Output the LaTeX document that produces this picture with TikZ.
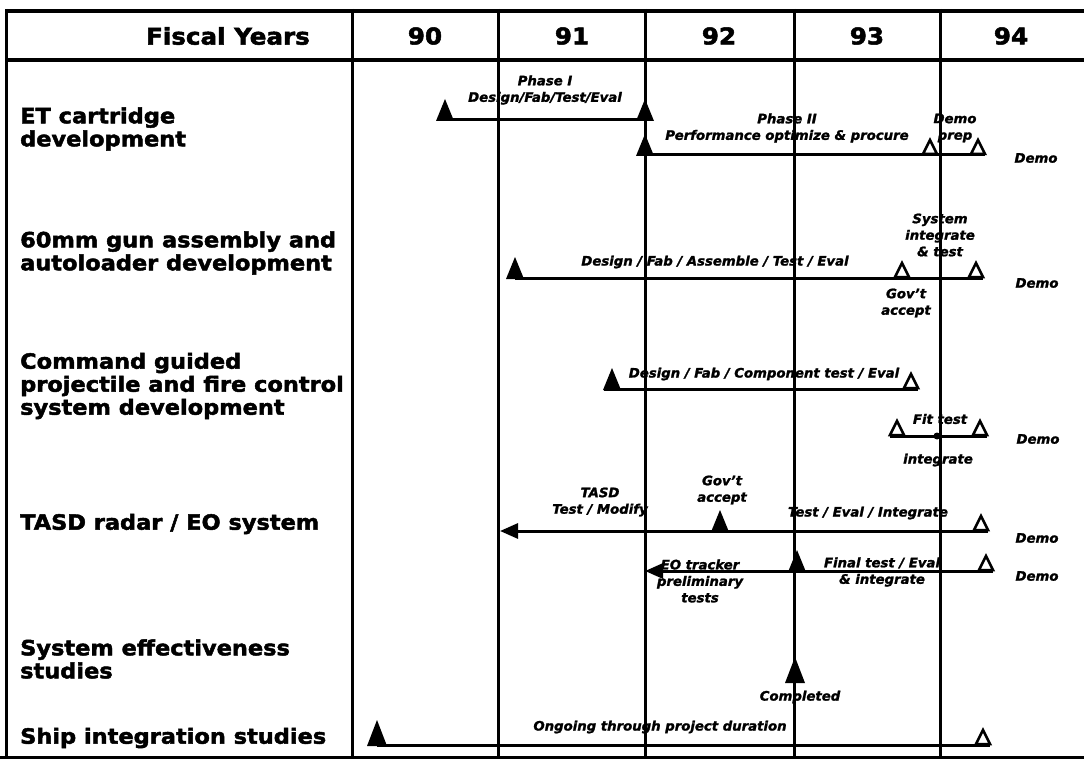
\documentclass[tikz,border=0pt]{standalone}
\usepackage{fontspec}
\setmainfont{DejaVu Sans}
\newfontfamily\heavy{DejaVu Sans Bold}[FakeBold=2.2,FakeStretch=1.07]
\newfontfamily\heavyit{DejaVu Sans Bold Oblique}[FakeBold=1.6,FakeStretch=1.02]
\usetikzlibrary{arrows.meta}
\begin{document}
\begin{tikzpicture}[x=1pt,y=-1pt,
  lab/.style={font=\heavy\fontsize{21}{23}\selectfont, align=left, anchor=west, inner sep=0pt},
  note/.style={font=\heavyit\fontsize{13}{16.5}\selectfont, align=center, inner sep=0pt},
  hdr/.style={font=\heavy\fontsize{23}{25}\selectfont, inner sep=0pt},
  gridline/.style={line width=3pt},
  thickline/.style={line width=4pt},
  bar/.style={line width=3pt},
  ftri/.pic={\fill (-9,1) -- (0,-21) -- (9,1) -- cycle;},
  htri/.pic={\draw[line width=2.5pt, fill=white] (-7,-1) -- (0,-15) -- (7,-1) -- cycle;},
  bigtri/.pic={\fill (-10,1) -- (0,-25) -- (10,1) -- cycle;},
  larrow/.style={-{Triangle[length=18pt,width=15pt]}}
]
\useasboundingbox (0,0) rectangle (1084,762);

% ---- header texts
\node[hdr, anchor=east] (fy) at (310,36) {Fiscal Years};
\node[hdr] (y90) at (425,36) {90};
\node[hdr] (y91) at (572,36) {91};
\node[hdr] (y92) at (719,36) {92};
\node[hdr] (y93) at (867,36) {93};
\node[hdr] (y94) at (1011,36) {94};

% ---- row labels
\node[lab] (l1) at (20,129) {ET cartridge\\development};
\node[lab] (l2) at (20,253) {60mm gun assembly and\\autoloader development};
\node[lab] (l3) at (20,386) {Command guided\\projectile and fire control\\system development};
\node[lab] (l4) at (20,524) {TASD radar / EO system};
\node[lab] (l5) at (20,659) {System effectiveness\\studies};
\node[lab] (l6) at (20,738) {Ship integration studies};

% ---- activity notes
\node[note] (n1) at (545,90) {Phase I\\Design/Fab/Test/Eval};
\node[note] (n2) at (787,128) {Phase II\\Performance optimize \& procure};
\node[note] (n3) at (955,128) {Demo\\prep};
\node[note] (d1) at (1036,158) {Demo};

\node[note] (n4) at (715,262) {Design / Fab / Assemble / Test / Eval};
\node[note] (n5) at (940,235) {System\\integrate\\\& test};
\node[note] (n6) at (906,303) {Gov’t\\accept};
\node[note] (d2) at (1037,283) {Demo};

\node[note] (n7) at (764,374) {Design / Fab / Component test / Eval};
\node[note] (n8) at (940,419) {Fit test};
\node[note] (n9) at (938,460) {integrate};
\node[note] (d3) at (1038,439) {Demo};

\node[note] (n10) at (600,502) {TASD\\Test / Modify};
\node[note] (n11) at (722,490) {Gov’t\\accept};
\node[note] (n12) at (868,513) {Test / Eval / Integrate};
\node[note] (d4) at (1037,538) {Demo};

\node[note] (n13) at (700,581) {EO tracker\\preliminary\\tests};
\node[note] (n14) at (882,572) {Final test / Eval\\\& integrate};
\node[note] (d5) at (1037,576) {Demo};

\node[note] (n15) at (800,697) {Completed};
\node[note] (n16) at (660,727) {Ongoing through project duration};

% ---- grid
\draw[thickline] (5,11) -- (1084,11);
\draw[thickline] (5,60) -- (1084,60);
\draw[gridline] (0,757) -- (1084,757);
\draw[gridline] (6,9) -- (6,759);
\foreach \gx in {352,498,645,794,940} \draw[gridline] (\gx,9) -- (\gx,757);

% ---- ET cartridge
\coordinate (a1) at (445,120); \coordinate (a2) at (645,120);
\draw[bar] (a1) -- (a2);
\pic at (a1) {ftri}; \pic at (a2) {ftri};
\coordinate (b1) at (645,155); \coordinate (b2) at (930,155); \coordinate (b3) at (978,155);
\draw[bar] (b1) -- ([xshift=7pt]b3);
\pic at (b1) {ftri}; \pic at (b2) {htri}; \pic at (b3) {htri};

% ---- 60mm gun
\coordinate (c1) at (515,278); \coordinate (c2) at (902,278); \coordinate (c3) at (976,278);
\draw[bar] (c1) -- ([xshift=7pt]c3);
\pic at (c1) {ftri}; \pic at (c2) {htri}; \pic at (c3) {htri};

% ---- Command guided
\coordinate (e1) at (612,389); \coordinate (e2) at (911,389);
\draw[bar] ([xshift=-8pt]e1) -- ([xshift=7pt]e2);
\pic at (e1) {ftri}; \pic at (e2) {htri};
\coordinate (f1) at (897,436); \coordinate (f2) at (980,436); \coordinate (f3) at (937,436);
\draw[bar] ([xshift=-7pt]f1) -- ([xshift=7pt]f2);
\pic at (f1) {htri}; \pic at (f2) {htri};
\fill (f3) circle (3.5);

% ---- TASD radar / EO
\coordinate (g1) at (500,531); \coordinate (g2) at (720,531); \coordinate (g3) at (981,531);
\draw[bar, larrow] ([xshift=7pt]g3) -- (g1);
\pic at (g2) {ftri}; \pic at (g3) {htri};
\coordinate (h1) at (645,571); \coordinate (h2) at (797,571); \coordinate (h3) at (986,571);
\draw[bar, larrow] ([xshift=7pt]h3) -- (h1);
\pic at (h2) {ftri}; \pic at (h3) {htri};

% ---- System effectiveness
\coordinate (s1) at (795,682);
\pic at (s1) {bigtri};

% ---- Ship integration
\coordinate (k1) at (377,745); \coordinate (k2) at (983,745);
\draw[bar] (k1) -- ([xshift=7pt]k2);
\pic at (k1) {bigtri}; \pic at (k2) {htri};
\end{tikzpicture}
\end{document}
